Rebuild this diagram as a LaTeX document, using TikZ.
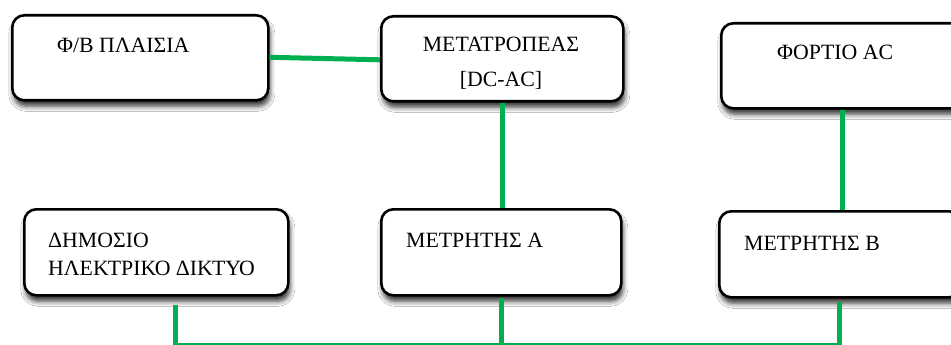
\documentclass[tikz,border=0pt]{standalone}
\usepackage{fontspec}
\setmainfont{Liberation Serif}
\usetikzlibrary{shadows.blur}
\definecolor{linkgreen}{HTML}{00B050}
\begin{document}
\begin{tikzpicture}[x=1pt,y=-1pt,
  unit/.style={draw=black, line width=2.6pt, rounded corners=12pt, fill=white,
    anchor=north west, inner sep=0pt,
    blur shadow={shadow xshift=1.5pt, shadow yshift=-6pt, shadow blur radius=5pt, shadow opacity=80}},
  caption/.style={inner sep=0pt, font=\fontsize{21.8}{26}\selectfont},
  link/.style={draw=linkgreen, line width=5pt}]
\useasboundingbox (0,0) rectangle (951,345);
\clip (0,0) rectangle (951,345);
\fill[white] (0,0) rectangle (951,345);

% blocks
\node[unit, minimum width=256pt, minimum height=85pt] (pv)   at (11,14)  {};
\node[unit, minimum width=242pt, minimum height=85pt] (inv)  at (380,15) {};
\node[unit, minimum width=242pt, minimum height=85pt] (load) at (720,22) {};
\node[unit, minimum width=264pt, minimum height=86pt] (grid) at (23,208) {};
\node[unit, minimum width=240pt, minimum height=86pt] (ma)   at (380,208) {};
\node[unit, minimum width=242pt, minimum height=86pt] (mb)   at (718,210) {};

% captions
\node[caption, anchor=base west] (tpv) at (57,53) {Φ/Β ΠΛΑΙΣΙΑ};
\node[caption, anchor=base] (tinv1) at (501,52) {ΜΕΤΑΤΡΟΠΕΑΣ};
\node[caption, anchor=base] (tinv2) at (501,86) {[DC-AC]};
\node[caption, anchor=base west] (tload) at (777,60) {ΦΟΡΤΙΟ AC};
\node[caption, anchor=base west] (tgrid1) at (48,247) {ΔΗΜΟΣΙΟ};
\node[caption, anchor=base west] (tgrid2) at (48,275) {ΗΛΕΚΤΡΙΚΟ ΔΙΚΤΥΟ};
\node[caption, anchor=base west] (tma) at (406,247) {ΜΕΤΡΗΤΗΣ Α};
\node[caption, anchor=base west] (tmb) at (744,250) {ΜΕΤΡΗΤΗΣ Β};

% connections
\coordinate (rail) at (0,345.5);
\draw[link] ([yshift=0.5pt]pv.east) -- ([yshift=-1pt]inv.west);
\draw[link] (inv.south) -- (inv.south |- ma.north);
\draw[link] (load.south) -- (load.south |- mb.north);
\draw[link] ([xshift=152.5pt,yshift=-8pt]grid.south west) -- ([xshift=152.5pt]grid.south west |- rail);
\draw[link] ([yshift=-1pt]ma.south) -- (ma.south |- rail);
\draw[link] ([xshift=-1pt,yshift=-3pt]mb.south) -- ([xshift=-1pt]mb.south |- rail);
\draw[link] ([xshift=152.5pt]grid.south west |- rail) -- ([xshift=-1pt]mb.south |- rail);
\end{tikzpicture}
\end{document}
